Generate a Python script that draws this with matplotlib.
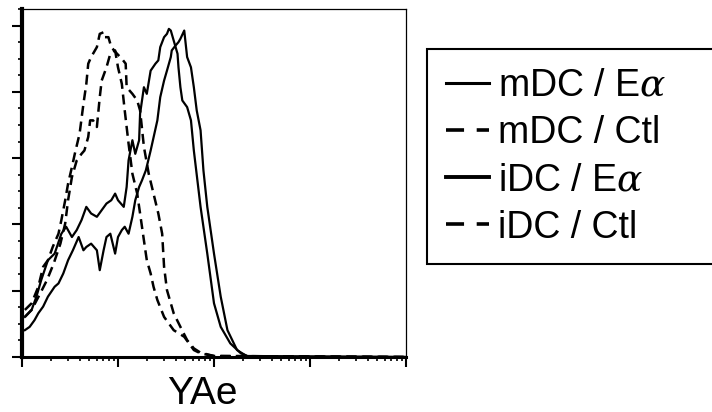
import numpy as np
import matplotlib
matplotlib.use('Agg')
import matplotlib.pyplot as plt
from matplotlib.lines import Line2D
from matplotlib.ticker import MultipleLocator, LogLocator, NullFormatter

plt.rcParams['font.family'] = ['Liberation Sans', 'DejaVu Sans']
plt.rcParams['mathtext.fontset'] = 'custom'
plt.rcParams['mathtext.it'] = 'DejaVu Serif:italic'

# intensidad en décadas (log10) y % del máximo
idc_ea_x = [0.03, 0.10, 0.15, 0.20, 0.27, 0.34, 0.41, 0.46, 0.52, 0.57, 0.62, 0.67,
            0.72, 0.78, 0.83, 0.88, 0.93, 0.97, 1.00, 1.06, 1.09, 1.11, 1.15, 1.18,
            1.22, 1.23, 1.27, 1.30, 1.34, 1.39, 1.42, 1.44, 1.48, 1.51, 1.53, 1.55,
            1.58, 1.62, 1.63, 1.65, 1.67, 1.72, 1.76, 1.79, 1.86, 1.93, 2.00, 2.07,
            2.17, 2.28, 2.35, 4.0]
idc_ea_y = [12.1, 14.2, 18.2, 23.2, 29.2, 31.2, 37.2, 39.3, 36.2, 38.3, 41.3, 45.3,
            43.3, 42.3, 44.3, 46.3, 47.3, 49.3, 47.3, 45.3, 51.3, 59.3, 65.4, 61.3,
            65.4, 73.4, 81.4, 79.4, 86.4, 88.5, 89.5, 93.5, 96.5, 97.5, 99.0, 98.5,
            95.5, 91.5, 87.4, 81.4, 77.4, 75.4, 71.4, 62.3, 45.3, 31.2, 16.2, 9.1,
            4.1, 1.1, 0.3, 0.0]

mdc_ea_x = [0.03, 0.08, 0.13, 0.17, 0.22, 0.27, 0.34, 0.38, 0.43, 0.48, 0.53, 0.59,
            0.64, 0.67, 0.72, 0.78, 0.81, 0.85, 0.88, 0.92, 0.97, 1.00, 1.04, 1.07,
            1.11, 1.15, 1.18, 1.22, 1.25, 1.29, 1.34, 1.41, 1.44, 1.48, 1.51, 1.55,
            1.56, 1.60, 1.63, 1.65, 1.69, 1.72, 1.76, 1.79, 1.82, 1.86, 1.89, 1.93,
            2.00, 2.07, 2.14, 2.24, 2.35, 4.0]
mdc_ea_y = [8.1, 9.1, 11.1, 13.2, 15.2, 18.2, 21.2, 22.2, 25.2, 29.2, 32.2, 36.2,
            32.2, 33.2, 34.2, 32.2, 26.2, 32.2, 36.2, 37.2, 31.2, 36.2, 38.3, 39.3,
            37.2, 42.3, 47.3, 51.3, 53.3, 56.3, 62.3, 71.4, 78.4, 83.4, 86.4, 90.5,
            92.5, 94.0, 95.0, 96.0, 98.5, 90.5, 87.4, 81.4, 74.4, 68.4, 56.3, 45.3,
            31.2, 18.2, 8.1, 2.1, 0.1, 0.0]

mdc_ctl_x = [0.03, 0.10, 0.17, 0.22, 0.27, 0.32, 0.38, 0.41, 0.45, 0.48, 0.52, 0.55,
             0.60, 0.64, 0.67, 0.69, 0.72, 0.78, 0.81, 0.85, 0.86, 0.90, 0.93, 0.99,
             1.04, 1.08, 1.09, 1.15, 1.20, 1.23, 1.27, 1.32, 1.37, 1.42, 1.46, 1.48,
             1.51, 1.58, 1.65, 1.72, 1.79, 1.86, 2.00, 4.0]
mdc_ctl_y = [14.2, 16.2, 21.2, 27.2, 29.2, 33.2, 37.2, 41.3, 47.3, 52.3, 57.3, 61.3,
             67.4, 76.4, 82.4, 88.5, 90.5, 93.5, 97.5, 98.0, 96.5, 96.5, 93.5, 91.5,
             90.0, 88.5, 81.4, 79.4, 77.4, 74.4, 63.4, 55.3, 49.3, 43.3, 37.2, 27.2,
             20.2, 13.2, 9.1, 5.1, 2.6, 1.3, 0.3, 0.0]

idc_ctl_x = [0.03, 0.10, 0.19, 0.26, 0.33, 0.40, 0.45, 0.48, 0.52, 0.57, 0.62, 0.65,
             0.69, 0.71, 0.74, 0.78, 0.81, 0.83, 0.88, 0.92, 0.97, 1.00, 1.04, 1.07,
             1.11, 1.15, 1.20, 1.23, 1.27, 1.30, 1.34, 1.37, 1.41, 1.48, 1.58, 1.69,
             1.79, 1.86, 2.00, 4.0]
idc_ctl_y = [12.1, 14.2, 19.2, 23.2, 28.2, 34.2, 40.3, 47.3, 54.3, 59.3, 61.3, 62.3,
             66.4, 71.4, 71.4, 69.4, 78.4, 83.4, 87.4, 91.5, 92.5, 87.4, 82.4, 74.4,
             64.4, 55.3, 49.3, 43.3, 35.2, 29.2, 25.2, 21.2, 17.2, 12.1, 8.1, 6.1,
             2.1, 1.1, 0.3, 0.0]

etiquetas = ['mDC / E$\\alpha$', 'mDC / Ctl', 'iDC / E$\\alpha$', 'iDC / Ctl']

fig = plt.figure(figsize=(7.12, 4.12), dpi=100)
ax = fig.add_axes([22 / 712, 55 / 412, 384 / 712, 348 / 412])

dash = (4.0, 2.3)
ax.plot(10 ** np.array(mdc_ea_x), mdc_ea_y, color='black', lw=1.6)
ax.plot(10 ** np.array(mdc_ctl_x), mdc_ctl_y, color='black', lw=1.8, dashes=dash)
ax.plot(10 ** np.array(idc_ea_x), idc_ea_y, color='black', lw=1.6)
ax.plot(10 ** np.array(idc_ctl_x), idc_ctl_y, color='black', lw=1.8, dashes=dash)

ax.set_xscale('log')
ax.set_xlim(1, 1e4)
ax.set_ylim(0, 105)
ax.yaxis.set_major_locator(MultipleLocator(20))
ax.yaxis.set_minor_locator(MultipleLocator(5))
ax.xaxis.set_major_locator(LogLocator(base=10))
ax.xaxis.set_minor_locator(LogLocator(base=10, subs=np.arange(2, 10)))
ax.xaxis.set_major_formatter(NullFormatter())
ax.xaxis.set_minor_formatter(NullFormatter())
ax.yaxis.set_major_formatter(NullFormatter())

ax.spines['left'].set_linewidth(3)
ax.spines['bottom'].set_linewidth(2.2)
ax.spines['top'].set_linewidth(0.9)
ax.spines['right'].set_linewidth(0.9)
ax.tick_params(which='major', direction='out', length=7, width=1.5)
ax.tick_params(which='minor', direction='out', length=3, width=1.2)

ax.set_xlabel('YAe', fontsize=28)
ax.xaxis.set_label_coords(0.47, -0.055)

# leyenda
handles = [
    Line2D([], [], color='black', lw=2.2),
    Line2D([], [], color='black', lw=2.6, dashes=(5, 3.5)),
    Line2D([], [], color='black', lw=2.8),
    Line2D([], [], color='black', lw=2.6, dashes=(5, 3.5)),
]
leg = fig.legend(handles, etiquetas, loc='upper left',
                 bbox_to_anchor=(427 / 712, 0.0, 300 / 712, 1 - 49 / 412),
                 mode='expand', borderaxespad=0, fontsize=27,
                 handlelength=1.15, handletextpad=0.24, borderpad=0.5,
                 labelspacing=0.3, frameon=True, fancybox=False,
                 edgecolor='black', framealpha=1)
leg.get_frame().set_linewidth(1.5)

fig.savefig('out.png', dpi=100)
